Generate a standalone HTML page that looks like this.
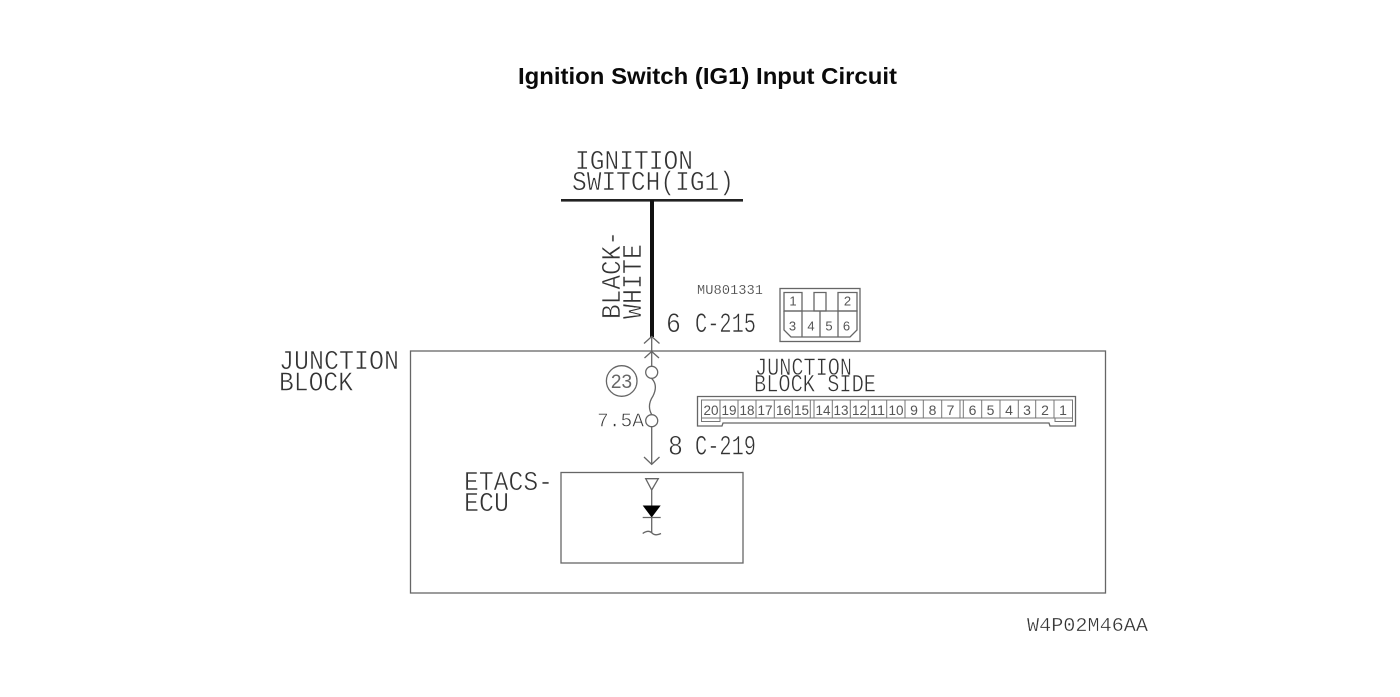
<!DOCTYPE html>
<html><head><meta charset="utf-8">
<style>
html,body{margin:0;padding:0;background:#fff;width:1400px;height:697px;overflow:hidden}
svg{display:block}
.m{font-family:"Liberation Mono",monospace;fill:#333;font-weight:normal;stroke:#fff;stroke-width:.55px;paint-order:fill stroke}
.s{font-family:"Liberation Sans",sans-serif;fill:#555;font-size:13px;text-anchor:middle}
.c{font-family:"Liberation Sans",sans-serif;fill:#555;font-size:14px;text-anchor:middle}
.l{stroke:#666;stroke-width:1.3;fill:none}
.t{stroke:#777;stroke-width:1;fill:none}
</style></head><body>
<svg width="1400" height="697" viewBox="0 0 1400 697" xmlns="http://www.w3.org/2000/svg">
<rect width="1400" height="697" fill="#fff"/>
<text x="518" y="84" font-family="'Liberation Sans',sans-serif" font-weight="bold" font-size="23.5" fill="#0a0a0a" textLength="379" lengthAdjust="spacingAndGlyphs">Ignition Switch (IG1) Input Circuit</text>

<text class="m" x="575" y="169" font-size="27" textLength="118" lengthAdjust="spacingAndGlyphs">IGNITION</text>
<text class="m" x="572" y="190" font-size="27" textLength="162" lengthAdjust="spacingAndGlyphs">SWITCH(IG1)</text>
<rect x="561" y="199" width="182" height="2.6" fill="#222"/>
<rect x="650" y="200" width="4" height="137" fill="#111"/>
<text class="m" transform="translate(620,319) rotate(-90)" x="0" y="0" font-size="27" textLength="88" lengthAdjust="spacingAndGlyphs">BLACK-</text>
<text class="m" transform="translate(641,319) rotate(-90)" x="0" y="0" font-size="27" textLength="75" lengthAdjust="spacingAndGlyphs">WHITE</text>

<text class="m" style="stroke-width:.25px" x="697" y="294" font-size="13.5" textLength="66" lengthAdjust="spacingAndGlyphs">MU801331</text>
<text class="m" x="666" y="332" font-size="28" textLength="15" lengthAdjust="spacingAndGlyphs">6</text>
<text class="m" x="695" y="332" font-size="28" textLength="61" lengthAdjust="spacingAndGlyphs">C-215</text>

<!-- 6-pin connector -->
<rect class="l" x="780" y="288.5" width="80" height="53"/>
<path class="l" d="M784 292.5H802V311H784ZM838 292.5H857V311H838ZM814 292.5H826V311H814Z"/>
<path class="l" d="M784 311V330L791 337H850L857 330V311H784M802 311V337M820 311V337M838 311V337"/>
<text class="s" x="793" y="305.500">1</text><text class="s" x="847.500" y="305.500">2</text>
<text class="s" x="792.500" y="330.500">3</text><text class="s" x="811" y="330.500">4</text><text class="s" x="829" y="330.500">5</text><text class="s" x="846.500" y="330.500">6</text>

<!-- arrows -->
<path class="l" d="M644 343.500L651.700 336.500L659.500 343.500M651.700 337V351"/>
<path class="l" d="M644.500 358L651.700 351.500L659 358M651.700 351.500V366"/>

<!-- junction block -->
<rect x="410.500" y="351" width="695" height="242" fill="none" stroke="#666" stroke-width="1.300"/>
<text class="m" x="279" y="369" font-size="27" textLength="120" lengthAdjust="spacingAndGlyphs">JUNCTION</text>
<text class="m" x="279" y="390.500" font-size="27" textLength="74" lengthAdjust="spacingAndGlyphs">BLOCK</text>

<circle class="l" cx="651.700" cy="372.300" r="6"/>
<circle class="l" cx="651.700" cy="420.700" r="6"/>
<path class="l" d="M651.700 378.500C657 384 656 390 653 396C649 402 648 408 651.700 414.500"/>
<path class="l" d="M651.700 427V464M644 457L651.700 464.300L659.500 457"/>
<circle class="l" cx="621.700" cy="381" r="15.300"/>
<text x="621.500" y="388" font-family="'Liberation Sans',sans-serif" font-size="19" fill="#666" text-anchor="middle">23</text>
<text class="m" x="597" y="426.500" font-size="19" textLength="47" lengthAdjust="spacingAndGlyphs">7.5A</text>
<text class="m" x="668" y="454.500" font-size="28" textLength="15" lengthAdjust="spacingAndGlyphs">8</text>
<text class="m" x="695" y="454.500" font-size="28" textLength="61" lengthAdjust="spacingAndGlyphs">C-219</text>

<text class="m" x="755" y="375" font-size="25" textLength="97" lengthAdjust="spacingAndGlyphs">JUNCTION</text>
<text class="m" x="754" y="391.500" font-size="25" textLength="122" lengthAdjust="spacingAndGlyphs">BLOCK SIDE</text>

<!-- 20-pin connector -->
<path class="l" d="M697.500 396.500H1075.500V426H1050L1049 423H723L722 426H697.500Z"/>
<path class="t" d="M701.500 400H1072.500V418H701.500Z M701.500 418V421.500H720V418M1055 418V421.500H1072.500V418"/>
<path class="t" d="M720 400V418M738 400V418M756 400V418M774.300 400V418M792.300 400V418M810.300 400V418M814 400V418M832.300 400V418M850.300 400V418M868.300 400V418M886.700 400V418M905 400V418M923.300 400V418M941.700 400V418M960 400V418M963.300 400V418M981.700 400V418M1000 400V418M1018.300 400V418M1035.700 400V418M1054 400V418"/>
<text class="c" x="711" y="415" textLength="15" lengthAdjust="spacingAndGlyphs">20</text><text class="c" x="729" y="415" textLength="15" lengthAdjust="spacingAndGlyphs">19</text><text class="c" x="747" y="415" textLength="15" lengthAdjust="spacingAndGlyphs">18</text><text class="c" x="765" y="415" textLength="15" lengthAdjust="spacingAndGlyphs">17</text><text class="c" x="783.500" y="415" textLength="15" lengthAdjust="spacingAndGlyphs">16</text><text class="c" x="801.500" y="415" textLength="15" lengthAdjust="spacingAndGlyphs">15</text>
<text class="c" x="823" y="415" textLength="15" lengthAdjust="spacingAndGlyphs">14</text><text class="c" x="841" y="415" textLength="15" lengthAdjust="spacingAndGlyphs">13</text><text class="c" x="859.500" y="415" textLength="15" lengthAdjust="spacingAndGlyphs">12</text><text class="c" x="877.500" y="415" textLength="15" lengthAdjust="spacingAndGlyphs">11</text><text class="c" x="896" y="415" textLength="15" lengthAdjust="spacingAndGlyphs">10</text><text class="c" x="914" y="415">9</text><text class="c" x="932.500" y="415">8</text><text class="c" x="950.500" y="415">7</text>
<text class="c" x="972.500" y="415">6</text><text class="c" x="990.500" y="415">5</text><text class="c" x="1009" y="415">4</text><text class="c" x="1027" y="415">3</text><text class="c" x="1045" y="415">2</text><text class="c" x="1063" y="415">1</text>

<!-- ETACS -->
<rect x="561" y="472.500" width="182" height="90.500" fill="none" stroke="#666" stroke-width="1.300"/>
<text class="m" x="464" y="490" font-size="27" textLength="89" lengthAdjust="spacingAndGlyphs">ETACS-</text>
<text class="m" x="464" y="511" font-size="27" textLength="45" lengthAdjust="spacingAndGlyphs">ECU</text>
<path class="l" d="M645.700 478.700H658.300L651.700 490ZM651.700 490V533"/>
<path d="M642.700 505.500H660.700L651.700 517.500Z" fill="#000"/>
<path class="l" d="M642.700 517.500H660.700"/>
<path class="l" d="M642.700 533.500C647 530.500 650 531 652 533C654 535 657 535.500 661 533.500"/>

<text class="m" style="stroke-width:.35px" x="1027" y="631" font-size="19" textLength="121" lengthAdjust="spacingAndGlyphs">W4P02M46AA</text>
</svg>
</body></html>
